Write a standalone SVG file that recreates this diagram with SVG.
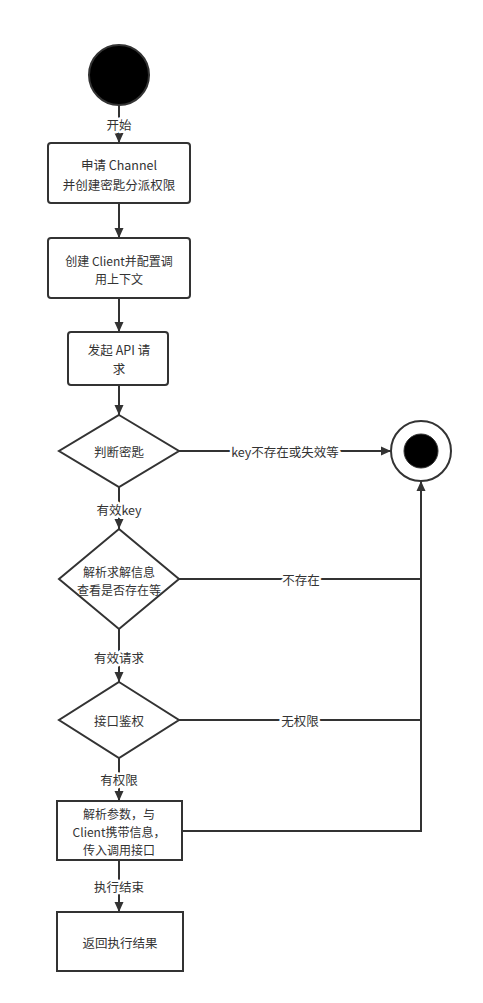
<svg xmlns="http://www.w3.org/2000/svg" width="483" height="1003" viewBox="0 0 483 1003">
<style>
.n{fill:#fff;stroke:#333;stroke-width:2}
.t{font-family:"Noto Sans CJK SC","Liberation Sans",sans-serif;font-size:12.5px;fill:#333;text-anchor:middle;dominant-baseline:central}
.s{font-size:12px}
.l{font-family:"Noto Sans CJK SC","Liberation Sans",sans-serif;font-size:12.5px;fill:#333;text-anchor:middle;dominant-baseline:central;paint-order:stroke;stroke:#fff;stroke-width:5px;stroke-linejoin:round}
.e{fill:none;stroke:#333;stroke-width:2}
</style>
<defs>
<marker id="a" markerUnits="userSpaceOnUse" markerWidth="10" markerHeight="10" refX="10" refY="5" orient="auto">
<path d="M0,0.5 L10,5 L0,9.5 z" fill="#333"/>
</marker>
</defs>
<rect width="483" height="1003" fill="#fff"/>
<g id="connectors">
<path class="e" d="M119,105 V143" marker-end="url(#a)"/>
<path class="e" d="M119,203 V238" marker-end="url(#a)"/>
<path class="e" d="M119,298 V332" marker-end="url(#a)"/>
<path class="e" d="M119,385 V415" marker-end="url(#a)"/>
<path class="e" d="M179,451 H391" marker-end="url(#a)"/>
<path class="e" d="M119,487 V529" marker-end="url(#a)"/>
<path class="e" d="M179,579 H421"/>
<path class="e" d="M119,629 V682" marker-end="url(#a)"/>
<path class="e" d="M179,720 H421"/>
<path class="e" d="M119,758 V801" marker-end="url(#a)"/>
<path class="e" d="M182,831 H421 V481" marker-end="url(#a)"/>
<path class="e" d="M119,860 V912" marker-end="url(#a)"/>
<text class="l" x="119" y="124">开始</text>
<text class="l" x="285" y="451">key不存在或失效等</text>
<text class="l" x="119" y="509">有效key</text>
<text class="l" x="301" y="579">不存在</text>
<text class="l" x="119" y="657">有效请求</text>
<text class="l" x="300" y="720">无权限</text>
<text class="l" x="119" y="779">有权限</text>
<text class="l" x="119" y="886">执行结束</text>
</g>
<g id="start"><circle cx="119" cy="75" r="30" fill="#000" stroke="#333" stroke-width="2"/></g>
<g id="n1"><rect class="n" x="48" y="143" width="142" height="60" rx="3"/><text class="t" x="119" y="164">申请 Channel</text><text class="t" x="119" y="184">并创建密匙分派权限</text></g>
<g id="n2"><rect class="n" x="48" y="238" width="142" height="60" rx="3"/><text class="t s" x="119" y="260">创建 Client并配置调</text><text class="t s" x="119" y="278">用上下文</text></g>
<g id="n3"><rect class="n" x="68" y="332" width="100" height="53" rx="3"/><text class="t" x="119" y="349">发起 API 请</text><text class="t" x="119" y="368">求</text></g>
<g id="d1"><polygon class="n" points="119,415 179,451 119,487 59,451"/><text class="t" x="119" y="451">判断密匙</text></g>
<g id="end"><circle cx="421" cy="451" r="30" fill="#fff" stroke="#333" stroke-width="2"/><circle cx="421" cy="451" r="17" fill="#000" stroke="#333" stroke-width="1"/></g>
<g id="d2"><polygon class="n" points="119,529 179,579 119,629 59,579"/><text class="t s" x="119" y="571">解析求解信息</text><text class="t s" x="119" y="589">查看是否存在等</text></g>
<g id="d3"><polygon class="n" points="119,682 179,720 119,758 59,720"/><text class="t" x="119" y="720">接口鉴权</text></g>
<g id="n4"><rect class="n" x="57" y="801" width="125" height="59"/><text class="t s" x="119" y="813">解析参数，与</text><text class="t s" x="119" y="831">Client携带信息，</text><text class="t s" x="119" y="849">传入调用接口</text></g>
<g id="n5"><rect class="n" x="57" y="912" width="126" height="59"/><text class="t" x="120" y="942">返回执行结果</text></g>
</svg>
